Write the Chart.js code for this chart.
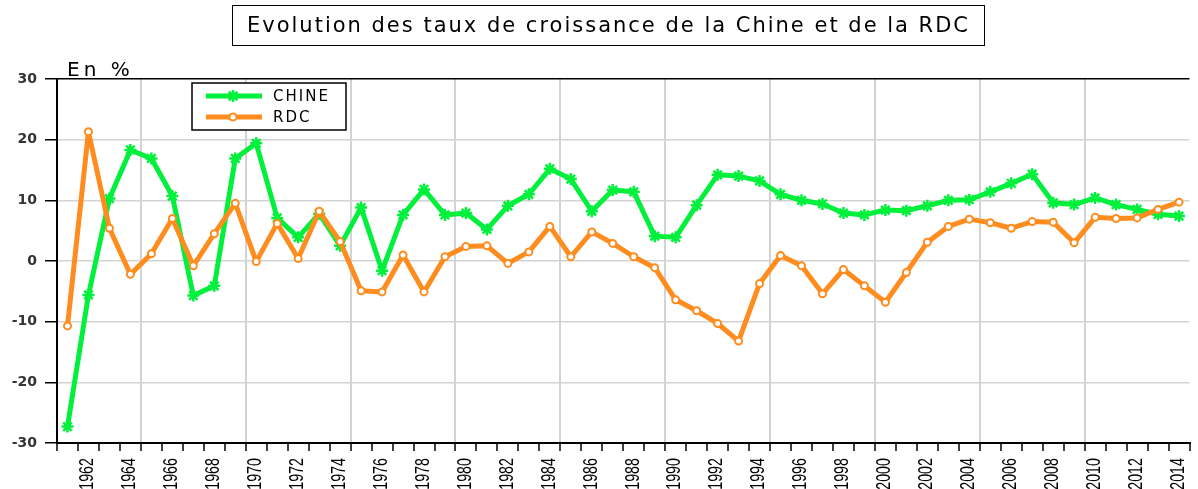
<!DOCTYPE html>
<html>
<head>
  <meta charset="utf-8">
  <title>Evolution des taux de croissance</title>
  <script src="https://cdn.jsdelivr.net/npm/chart.js@4"></script>
  <style>
    body { margin: 0; background: #fff; }
    #wrap { position: relative; width: 1198px; height: 489px; overflow: hidden; }
    #titre {
      position: absolute; left: 232px; top: 5px; width: 751px; height: 39px;
      border: 1px solid #000; text-align: center;
      font: 21px "DejaVu Sans", sans-serif; line-height: 39px;
      letter-spacing: 2px; color: #000; white-space: nowrap;
    }
    #unite {
      position: absolute; left: 67px; top: 57px;
      font: 20px "DejaVu Sans", sans-serif; letter-spacing: 4px; color: #000;
    }
  </style>
</head>
<body>
<div id="wrap">
  <canvas id="graphique" width="1198" height="489"></canvas>
  <div id="titre">Evolution des taux de croissance de la Chine et de la RDC</div>
  <div id="unite">En %</div>
</div>
<script>
var annees = [1961, 1962, 1963, 1964, 1965, 1966, 1967, 1968, 1969, 1970,
  1971, 1972, 1973, 1974, 1975, 1976, 1977, 1978, 1979, 1980,
  1981, 1982, 1983, 1984, 1985, 1986, 1987, 1988, 1989, 1990,
  1991, 1992, 1993, 1994, 1995, 1996, 1997, 1998, 1999, 2000,
  2001, 2002, 2003, 2004, 2005, 2006, 2007, 2008, 2009, 2010,
  2011, 2012, 2013, 2014];

// taux de croissance en %
var chine = [-27.3, -5.6, 10.3, 18.3, 16.9, 10.7, -5.7, -4.1, 16.9, 19.4,
  7.1, 3.9, 7.8, 2.5, 8.8, -1.6, 7.6, 11.8, 7.6, 7.9,
  5.2, 9.1, 11.0, 15.2, 13.5, 8.2, 11.7, 11.4, 4.1, 3.9,
  9.2, 14.2, 14.0, 13.2, 11.0, 10.0, 9.4, 7.9, 7.6, 8.4,
  8.3, 9.1, 10.0, 10.1, 11.4, 12.8, 14.3, 9.6, 9.3, 10.4,
  9.3, 8.5, 7.7, 7.4];

var rdc = [-10.7, 21.3, 5.4, -2.2, 1.2, 7.0, -0.8, 4.5, 9.5, -0.1,
  6.2, 0.4, 8.2, 3.2, -4.9, -5.1, 1.0, -5.1, 0.7, 2.4,
  2.5, -0.4, 1.5, 5.7, 0.7, 4.8, 2.9, 0.7, -1.1, -6.4,
  -8.2, -10.3, -13.2, -3.7, 0.9, -0.8, -5.4, -1.4, -4.1, -6.8,
  -1.9, 3.1, 5.7, 6.9, 6.3, 5.4, 6.5, 6.4, 3.0, 7.2,
  7.0, 7.1, 8.5, 9.7];

var yMin = -30, yMax = 30, yPas = 10;

var vert = '#00f03c';
var orange = '#ff8c1e';

// legende dans un cadre, en haut a gauche
var legendeBoite = {
  id: 'legendeBoite',
  afterDraw: function(chart) {
    var ctx = chart.ctx;
    var x = 192, y = 83, w = 154, h = 47;
    ctx.save();
    ctx.fillStyle = '#fff';
    ctx.fillRect(x, y, w, h);
    ctx.strokeStyle = '#000';
    ctx.lineWidth = 1.5;
    ctx.strokeRect(x, y, w, h);

    var items = [
      { label: 'CHINE', ds: chart.data.datasets[0], ly: 96 },
      { label: 'RDC', ds: chart.data.datasets[1], ly: 117 }
    ];
    items.forEach(function(it) {
      ctx.strokeStyle = it.ds.borderColor;
      ctx.lineWidth = it.ds.borderWidth;
      ctx.beginPath();
      ctx.moveTo(206, it.ly);
      ctx.lineTo(262, it.ly);
      ctx.stroke();
      ctx.fillStyle = it.ds.pointBackgroundColor;
      ctx.strokeStyle = it.ds.borderColor;
      ctx.lineWidth = it.ds.pointBorderWidth;
      Chart.helpers.drawPoint(ctx, {
        pointStyle: it.ds.pointStyle,
        radius: it.ds.pointRadius,
        borderWidth: it.ds.pointBorderWidth,
        rotation: 0
      }, 233, it.ly);
      ctx.fillStyle = '#000';
      ctx.font = '15px "DejaVu Sans"';
      ctx.letterSpacing = '2px';
      ctx.textBaseline = 'middle';
      ctx.textAlign = 'left';
      ctx.fillText(it.label, 273, it.ly + 1);
    });
    ctx.restore();
  }
};

// annees sous l'axe : texte vertical, etroit (une annee sur deux)
var etiquettesAnnees = {
  id: 'etiquettesAnnees',
  afterDraw: function(chart) {
    var sx = chart.scales.x;
    var ctx = chart.ctx;
    ctx.save();
    ctx.font = '21px "Liberation Sans"';
    ctx.fillStyle = '#000';
    ctx.textAlign = 'right';
    ctx.textBaseline = 'middle';
    sx.ticks.forEach(function(t, i) {
      if (i % 2 !== 1) return;
      var px = sx.getPixelForTick(i);
      ctx.save();
      ctx.translate(px - 1, sx.top + 15);
      ctx.rotate(-Math.PI / 2);
      ctx.scale(0.68, 1);
      ctx.fillText(String(annees[i]), 0, 0);
      ctx.restore();
    });
    ctx.restore();
  }
};

var ctx = document.getElementById('graphique').getContext('2d');
var graphique = new Chart(ctx, {
  type: 'line',
  data: {
    labels: annees,
    datasets: [{
      label: 'CHINE',
      data: chine,
      borderColor: vert,
      backgroundColor: vert,
      borderWidth: 5,
      borderJoinStyle: 'round',
      pointStyle: 'star',
      pointRadius: 6,
      pointBorderWidth: 2.5,
      pointBackgroundColor: vert,
      pointBorderColor: vert,
      order: 2
    }, {
      label: 'RDC',
      data: rdc,
      borderColor: orange,
      backgroundColor: orange,
      borderWidth: 5,
      borderJoinStyle: 'round',
      pointStyle: 'circle',
      pointRadius: 3.5,
      pointBorderWidth: 2,
      pointBackgroundColor: '#fff',
      pointBorderColor: orange,
      order: 1
    }]
  },
  options: {
    responsive: false,
    animation: false,
    layout: { padding: { top: 79, right: 1, left: 0, bottom: 0 } },
    plugins: {
      legend: { display: false },
      title: { display: false },
      tooltip: { enabled: false }
    },
    scales: {
      x: {
        type: 'category',
        offset: true,
        grid: {
          offset: true,
          color: function(c) {
            return (c.index % 5 === 4) ? '#d3d3d3' : 'rgba(0,0,0,0)';
          },
          lineWidth: 2,
          drawTicks: true,
          tickLength: 8,
          tickColor: '#000',
          tickWidth: 1.5
        },
        border: { color: '#000', width: 2 },
        ticks: { display: false, autoSkip: false },
        afterFit: function(s) {
          s.height = 46;
          s.paddingLeft = 0;
          s.paddingRight = 0;
        }
      },
      y: {
        min: yMin,
        max: yMax,
        grid: {
          color: function(c) {
            return (c.tick && c.tick.value === yMax) ? '#000' : '#d3d3d3';
          },
          lineWidth: 1.5,
          tickLength: 12,
          tickColor: '#000',
          tickWidth: 1.5
        },
        border: { color: '#000', width: 2 },
        ticks: {
          stepSize: yPas,
          padding: 8,
          color: '#333',
          font: { family: 'DejaVu Sans', size: 14, weight: 'bold' }
        },
        afterFit: function(s) {
          s.width = 57;
          s.paddingTop = 0;
          s.paddingBottom = 0;
        }
      }
    }
  },
  plugins: [legendeBoite, etiquettesAnnees]
});
</script>
</body>
</html>
